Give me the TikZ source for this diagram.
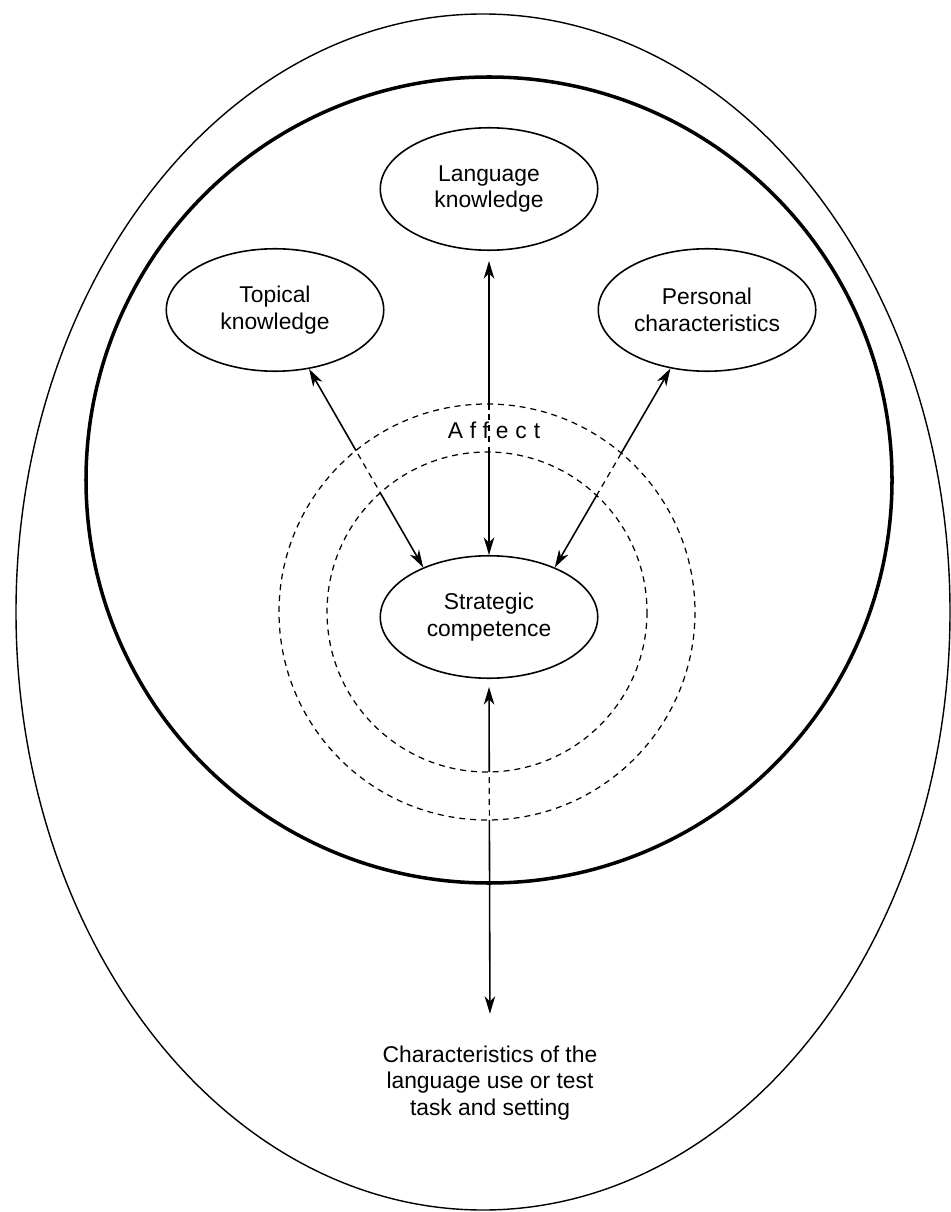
\documentclass[tikz,border=0pt]{standalone}
\usepackage{fontspec}
\setmainfont{Liberation Sans}
\usetikzlibrary{arrows.meta, shapes.geometric}

\begin{document}
\begin{tikzpicture}[
    x=0.02cm, y=-0.02cm,
    every node/.style={font=\fontsize{13}{15}\selectfont, align=center},
    part/.style={draw, ellipse, line width=0.9pt, minimum width=4.35cm, minimum height=2.45cm, inner sep=0pt},
    link/.style={line width=0.9pt, {Stealth[length=10pt,width=6pt,inset=3pt]}-{Stealth[length=10pt,width=6pt,inset=3pt]}},
    ring/.style={dash pattern=on 3.4pt off 2.8pt, line width=0.7pt},
]
    \useasboundingbox (0,0) rectangle (950,1212);

    % Outer ellipse and thick circle
    \draw[line width=0.8pt] (483,612) ellipse [x radius=467, y radius=598];
    \draw[line width=2pt] (489,480) circle [radius=403];

    % Affect rings
    \coordinate (ctr) at (487,612);
    \draw[ring] (ctr) circle [radius=208];
    \draw[ring] (ctr) circle [radius=160];
    \node (affect) at (494,430) {\addfontfeature{LetterSpace=30}Affect};

    % Nodes
    \node[part] (lang) at (489,189) {Language\\knowledge};
    \node[part] (topic) at (275,310) {Topical\\knowledge};
    \node[part] (pers) at (707,310) {Personal\\characteristics};
    \node[part] (strat) at (489,617) {Strategic\\competence};
    \node (setting) at (490,1083) {Characteristics of the\\language use or test\\task and setting};

    % Connections, solid outside the Affect ring
    \begin{scope}[even odd rule]
        \clip (0,0) rectangle (950,1212)
            (ctr) circle [radius=208] (ctr) circle [radius=160];
        \draw[link, shorten <=0.2cm] (lang.south) -- (strat.north);
        \draw[link] (topic.-60) -- (strat.143);
        \draw[link] (pers.-122) -- (strat.37);
        \draw[link, shorten <=0.16cm, shorten >=0.52cm] (strat.south) -- (setting.north);
    \end{scope}

    % Connections, dashed inside the Affect ring
    \begin{scope}[even odd rule]
        \clip (ctr) circle [radius=208] (ctr) circle [radius=160];
        \draw[ring] (lang.south) -- (strat.north);
        \draw[ring] (topic.-60) -- (strat.143);
        \draw[ring] (pers.-122) -- (strat.37);
        \draw[ring] (strat.south) -- (setting.north);
    \end{scope}
\end{tikzpicture}
\end{document}
